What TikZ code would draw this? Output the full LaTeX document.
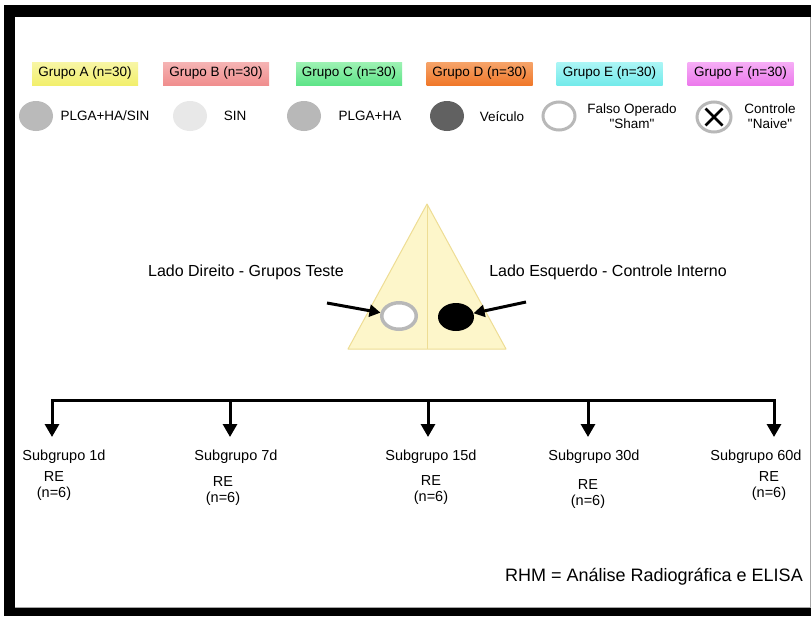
\documentclass[tikz,border=0pt]{standalone}
\usepackage{fontspec}
\setmainfont{Liberation Sans}[Ligatures=TeXOff]
\usetikzlibrary{arrows.meta,shapes.geometric,calc}
\definecolor{ayT}{HTML}{F8F6A6}\definecolor{ayB}{HTML}{F2EF6C}
\definecolor{bT}{HTML}{F5B4B4}\definecolor{bB}{HTML}{F08E8E}
\definecolor{cT}{HTML}{9EF2B4}\definecolor{cB}{HTML}{5EE488}
\definecolor{dT}{HTML}{F6A46A}\definecolor{dB}{HTML}{F0782A}
\definecolor{eT}{HTML}{ACF6F6}\definecolor{eB}{HTML}{74EAEA}
\definecolor{fT}{HTML}{F6AEF6}\definecolor{fB}{HTML}{EC7AEC}
\definecolor{triFill}{HTML}{FDF6CA}
\definecolor{triLine}{HTML}{EEDD94}
\definecolor{ringGray}{HTML}{B8B8B8}
\begin{document}
\begin{tikzpicture}[x=1pt,y=-1pt,
  gbox/.style={rectangle, minimum width=106pt, minimum height=23pt, inner sep=0pt,
    font=\fontsize{13.5}{16}\selectfont},
  dot/.style={ellipse, minimum width=34pt, minimum height=30pt, inner sep=0pt},
  ltxt/.style={font=\fontsize{13.5}{15}\selectfont, align=center, inner sep=0pt},
  side/.style={font=\fontsize{16}{19}\selectfont, inner sep=0pt},
  sub/.style={font=\fontsize{14.5}{17}\selectfont, inner sep=0pt},
  re/.style={font=\fontsize{14.5}{15.5}\selectfont, align=center, inner sep=0pt},
  bigarrow/.style={line width=3pt, -{Triangle[length=13pt,width=14pt]}},
  branch/.style={line width=3pt, line cap=rect}]
\useasboundingbox (0,0) rectangle (811,616);
% frame
\fill[black] (4,5) rectangle (811,616);
\fill[white] (15,17) rectangle (811,607.5);
\draw[gray!70, line width=1pt] (810,17) -- (810,607.5) -- (15,607.5);
% legend boxes
\node[gbox, top color=ayT, bottom color=ayB] (gA) at (85,73.5) {Grupo A (n=30)};
\node[gbox, top color=bT, bottom color=bB] (gB) at (216,73.5) {Grupo B (n=30)};
\node[gbox, top color=cT, bottom color=cB] (gC) at (349,73.5) {Grupo C (n=30)};
\node[gbox, top color=dT, bottom color=dB] (gD) at (479.5,73.5) {Grupo D (n=30)};
\node[gbox, top color=eT, bottom color=eB] (gE) at (609.5,73.5) {Grupo E (n=30)};
\node[gbox, top color=fT, bottom color=fB] (gF) at (740.5,73.5) {Grupo F (n=30)};
% legend symbols
\node[dot, fill=black!27] (cA) at (36,116) {};
\node[ltxt] (tA) at (105,116) {PLGA+HA/SIN};
\node[dot, fill=black!9] (cB) at (190,116) {};
\node[ltxt] (tB) at (235,116) {SIN};
\node[dot, fill=black!28] (cC) at (304,116) {};
\node[ltxt] (tC) at (370,116) {PLGA+HA};
\node[dot, fill=black!62] (cD) at (447,116) {};
\node[ltxt] (tD) at (502,117) {Veículo};
\node[dot, draw=ringGray, line width=3pt, minimum width=32pt, minimum height=28pt, fill=white] (cE) at (559,116) {};
\node[ltxt] (tE) at (632,116) {Falso Operado\\"Sham"};
\node[dot, draw=ringGray, line width=3pt, minimum width=34pt, minimum height=30pt, fill=white] (cF) at (714,117) {};
\draw[line width=2.8pt] (cF.center) ++(-8.5,-8.5) -- ++(17,17);
\draw[line width=2.8pt] (cF.center) ++(8.5,-8.5) -- ++(-17,17);
\node[ltxt] (tF) at (770,116) {Controle\\"Naive"};
% triangle
\coordinate (apex) at (427,204);
\coordinate (bl) at (348,349);
\coordinate (br) at (506,349);
\coordinate (bm) at (427,349);
\draw[triLine, fill=triFill, line width=1pt, line join=round] (apex) -- (bl) -- (br) -- cycle;
\draw[triLine, line width=1pt] (apex) -- (bm);
\node[side] (lD) at (246,272) {Lado Direito - Grupos Teste};
\node[side] (lE) at (608,272) {Lado Esquerdo - Controle Interno};
\node[dot, draw=ringGray, line width=3.5pt, minimum width=34.5pt, minimum height=26.5pt, fill=white] (rL) at (399,316) {};
\node[dot, fill=black, minimum width=36pt, minimum height=28pt] (rR) at (456,317) {};
\coordinate (aL) at (327,303);
\coordinate (aR) at (526,302);
\draw[bigarrow, -{Triangle[length=11pt,width=12pt]}] (aL) -- (rL);
\draw[bigarrow, -{Triangle[length=11pt,width=12pt]}] (aR) -- (rR);
% branch
\coordinate (b1) at (52,400);
\coordinate (b2) at (230,400);
\coordinate (b3) at (428,400);
\coordinate (b4) at (588,400);
\coordinate (b5) at (774,400);
\draw[branch] (b1) -- (b5);
\foreach \i in {1,...,5}{
  \coordinate (t\i) at ($(b\i)+(0,37)$);
}
\draw[bigarrow] (b1) -- (t1);
\draw[bigarrow] (b2) -- (t2);
\draw[bigarrow] (b3) -- (t3);
\draw[bigarrow] (b4) -- (t4);
\draw[bigarrow] (b5) -- (t5);
% subgroups
\node[sub] (s1) at (64,457) {Subgrupo 1d};
\node[sub] (s2) at (236,457) {Subgrupo 7d};
\node[sub] (s3) at (431,457) {Subgrupo 15d};
\node[sub] (s4) at (594,457) {Subgrupo 30d};
\node[sub] (s5) at (756,457) {Subgrupo 60d};
\node[re] (r1) at (54,486) {RE\\(n=6)};
\node[re] (r2) at (223,491) {RE\\(n=6)};
\node[re] (r3) at (431,490) {RE\\(n=6)};
\node[re] (r4) at (588,494) {RE\\(n=6)};
\node[re] (r5) at (769,486) {RE\\(n=6)};
\node[font=\fontsize{18}{21}\selectfont, inner sep=0pt, anchor=east] (rhm) at (803,577) {RHM = Análise Radiográfica e ELISA};
\end{tikzpicture}
\end{document}
